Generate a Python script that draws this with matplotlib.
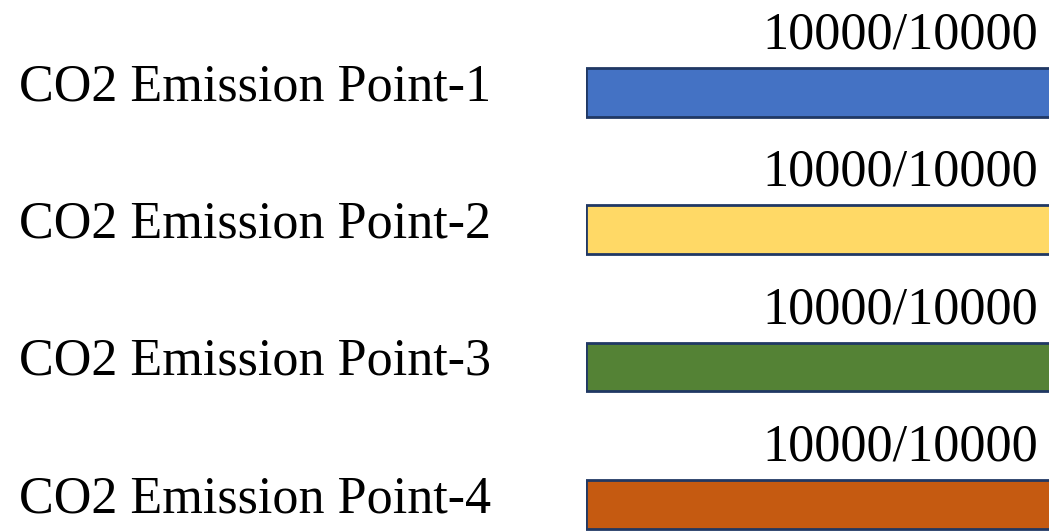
import matplotlib
matplotlib.use('Agg')
import matplotlib.pyplot as plt

# data
labels = ['CO2 Emission Point-1', 'CO2 Emission Point-2',
          'CO2 Emission Point-3', 'CO2 Emission Point-4']
done = [10000, 10000, 10000, 10000]
total = [10000, 10000, 10000, 10000]
colors = ['#4472C4', '#FFD966', '#548235', '#C55A11']

plt.rcParams['font.family'] = ['Liberation Serif', 'DejaVu Serif']

W, H = 1049, 531
fig = plt.figure(figsize=(W / 100, H / 100), dpi=100)
ax = fig.add_axes([586 / W, 0, (1053 - 586) / W, 1])

bar_h = 0.355
ypos = list(range(len(labels)))
ax.barh(ypos, done, height=bar_h, color=colors, edgecolor='#203864', linewidth=2)
ax.set_xlim(0, max(total))
ax.set_ylim((H - 92.5) / 137.3, -92.5 / 137.3)
ax.axis('off')

# category labels at the left of the figure (baseline a bit below bar centre)
for i, lab in enumerate(labels):
    ax.annotate(lab, xy=(19 / W, i), xycoords=('figure fraction', 'data'),
                xytext=(0, -5.5), textcoords='offset points',
                ha='left', va='baseline', fontsize=37.5)

# count labels above the bars
for i, (d, t) in enumerate(zip(done, total)):
    ax.annotate(f'{d}/{t}', xy=(d, i - bar_h / 2), xytext=(-11, 14),
                textcoords='offset points', ha='right', va='baseline',
                fontsize=37.5)

fig.savefig('out.png', dpi=100)
